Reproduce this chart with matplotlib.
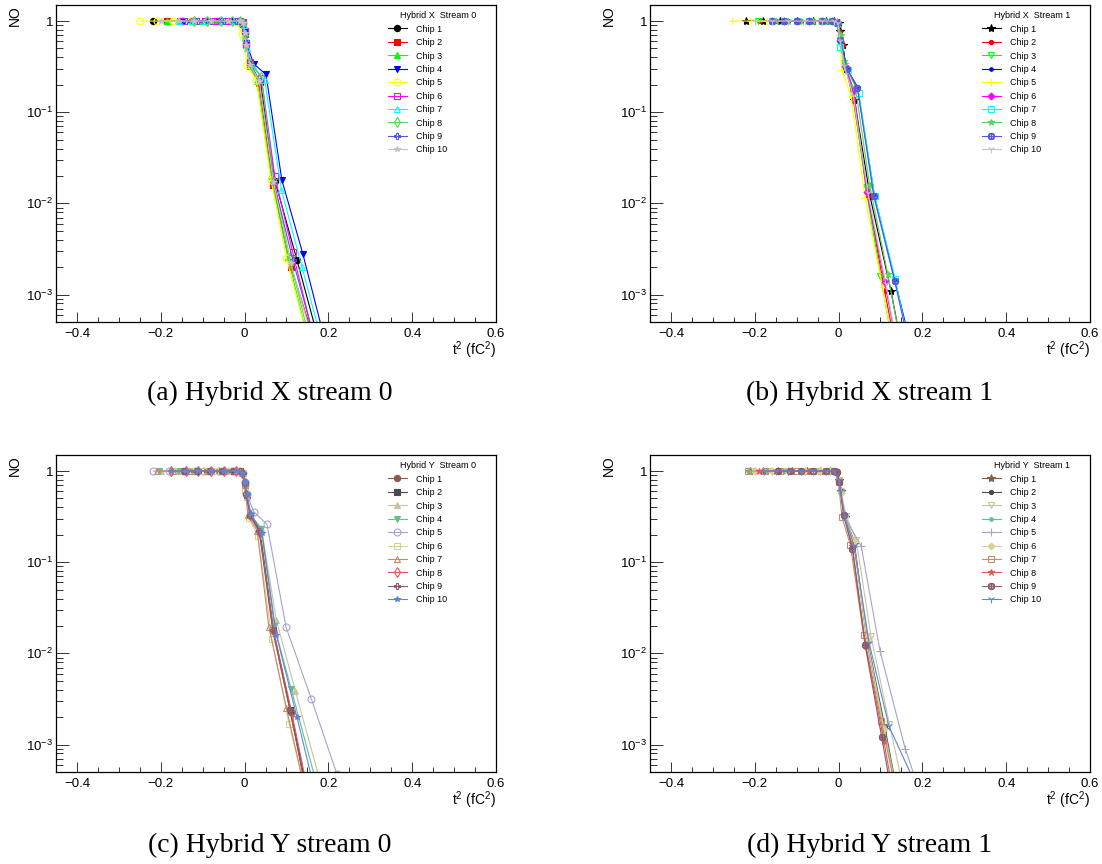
import matplotlib
matplotlib.use("Agg")
import matplotlib.pyplot as plt
from matplotlib.ticker import FixedLocator, MultipleLocator, LogLocator, FuncFormatter, NullFormatter

# ROOT-ish look: helvetica style text everywhere, times for the captions
plt.rcParams['font.family'] = 'Liberation Sans'
plt.rcParams['mathtext.fontset'] = 'custom'
plt.rcParams['mathtext.rm'] = 'Liberation Sans'
plt.rcParams['mathtext.it'] = 'Liberation Sans:italic'
plt.rcParams['mathtext.bf'] = 'Liberation Sans:bold'

chip_labels = ['Chip 1', 'Chip 2', 'Chip 3', 'Chip 4', 'Chip 5',
               'Chip 6', 'Chip 7', 'Chip 8', 'Chip 9', 'Chip 10']

# Hybrid X, stream 0  (x = t^2 in fC^2, y = occupancy)
hx0_x = [
    [-0.219, -0.185, -0.15, -0.12, -0.09, -0.06, -0.03, -0.012, -0.004, 0.0, 0.004, 0.013, 0.038, 0.073, 0.125, 0.174],
    [-0.184, -0.155, -0.125, -0.095, -0.065, -0.035, -0.012, -0.004, 0.0, 0.004, 0.012, 0.034, 0.068, 0.111, 0.163],
    [-0.186, -0.16, -0.13, -0.1, -0.07, -0.04, -0.015, -0.005, 0.0, 0.004, 0.012, 0.03, 0.063, 0.103, 0.149],
    [-0.15, -0.12, -0.09, -0.06, -0.03, -0.012, -0.004, 0.0, 0.004, 0.0216, 0.051, 0.089, 0.139, 0.189],
    [-0.249, -0.21, -0.17, -0.13, -0.09, -0.05, -0.02, -0.005, 0.006, 0.028, 0.063, 0.1, 0.149],
    [-0.15, -0.12, -0.095, -0.07, -0.04, -0.015, -0.004, 0.0, 0.004, 0.014, 0.04, 0.072, 0.115, 0.164],
    [-0.157, -0.125, -0.095, -0.055, -0.025, -0.01, -0.002, 0.006, 0.02, 0.048, 0.088, 0.137, 0.181],
    [-0.12, -0.09, -0.056, -0.03, -0.01, -0.003, 0.002, 0.015, 0.04, 0.071, 0.108, 0.153],
    [-0.14, -0.11, -0.08, -0.05, -0.02, -0.006, 0.0, 0.004, 0.013, 0.036, 0.07, 0.115, 0.165],
    [-0.2, -0.16, -0.12, -0.08, -0.04, -0.012, -0.004, 0.0, 0.004, 0.013, 0.035, 0.069, 0.11, 0.16],
]
hx0_y = [
    [1, 1, 1, 1, 1, 1, 1, 0.99, 0.95, 0.75, 0.56, 0.34, 0.21, 0.0174, 0.0024, 0.00035],
    [1, 1, 1, 1, 1, 1, 0.99, 0.94, 0.72, 0.55, 0.32, 0.21, 0.016, 0.002, 0.00035],
    [1, 1, 1, 1, 1, 1, 1, 0.95, 0.74, 0.55, 0.33, 0.22, 0.02, 0.0026, 0.00035],
    [1, 1, 1, 1, 1, 1, 0.96, 0.78, 0.58, 0.34, 0.26, 0.018, 0.0028, 0.00035],
    [1, 1, 1, 1, 1, 1, 0.98, 0.72, 0.33, 0.225, 0.018, 0.0025, 0.00035],
    [1, 1, 1, 1, 1, 1, 0.97, 0.78, 0.56, 0.36, 0.24, 0.02, 0.0029, 0.00035],
    [1, 1, 1, 1, 1, 1, 0.9, 0.5, 0.32, 0.225, 0.014, 0.002, 0.00035],
    [1, 1, 1, 1, 1, 0.95, 0.62, 0.33, 0.245, 0.017, 0.0025, 0.00035],
    [1, 1, 1, 1, 1, 0.96, 0.74, 0.56, 0.34, 0.22, 0.017, 0.0024, 0.00035],
    [1, 1, 1, 1, 1, 1, 0.95, 0.74, 0.55, 0.33, 0.22, 0.017, 0.0022, 0.00035],
]

# Hybrid X, stream 1
hx1_x = [
    [-0.222, -0.18, -0.14, -0.1, -0.06, -0.03, -0.01, 0.0, 0.004, 0.01, 0.018, 0.038, 0.075, 0.125, 0.16],
    [-0.187, -0.15, -0.12, -0.09, -0.06, -0.03, -0.01, 0.0, 0.004, 0.01, 0.017, 0.035, 0.07, 0.11, 0.15],
    [-0.192, -0.16, -0.13, -0.1, -0.07, -0.04, -0.015, -0.002, 0.003, 0.012, 0.035, 0.065, 0.1, 0.14],
    [-0.15, -0.12, -0.09, -0.06, -0.03, -0.01, 0.0, 0.005, 0.02, 0.045, 0.085, 0.135, 0.18],
    [-0.254, -0.21, -0.17, -0.13, -0.09, -0.05, -0.02, -0.005, 0.002, 0.008, 0.03, 0.0635, 0.105, 0.14],
    [-0.16, -0.13, -0.1, -0.07, -0.04, -0.015, -0.003, 0.003, 0.016, 0.036, 0.067, 0.11, 0.15],
    [-0.159, -0.13, -0.1, -0.07, -0.04, -0.015, -0.003, 0.004, 0.022, 0.048, 0.086, 0.135, 0.175],
    [-0.15, -0.12, -0.09, -0.06, -0.03, -0.01, 0.0, 0.005, 0.015, 0.04, 0.074, 0.117, 0.155],
    [-0.16, -0.13, -0.1, -0.07, -0.04, -0.015, -0.003, 0.004, 0.02, 0.045, 0.084, 0.134, 0.175],
    [-0.2, -0.16, -0.12, -0.08, -0.04, -0.012, -0.002, 0.004, 0.014, 0.035, 0.07, 0.113, 0.15],
]
hx1_y = [
    [1, 1, 1, 1, 1, 1, 1, 0.95, 0.78, 0.55, 0.3, 0.136, 0.012, 0.0011, 0.000155],
    [1, 1, 1, 1, 1, 1, 1, 0.95, 0.76, 0.55, 0.31, 0.14, 0.012, 0.0011, 0.00012],
    [1, 1, 1, 1, 1, 1, 1, 0.93, 0.62, 0.35, 0.16, 0.015, 0.0016, 0.00015],
    [1, 1, 1, 1, 1, 1, 0.95, 0.65, 0.3, 0.19, 0.0125, 0.0014, 0.0002],
    [1, 1, 1, 1, 1, 1, 1, 0.97, 0.7, 0.29, 0.15, 0.0114, 0.0012, 0.00016],
    [1, 1, 1, 1, 1, 1, 0.97, 0.6, 0.32, 0.176, 0.0135, 0.00137, 0.00015],
    [1, 1, 1, 1, 1, 1, 0.95, 0.52, 0.29, 0.164, 0.0122, 0.0015, 0.0002],
    [1, 1, 1, 1, 1, 1, 0.94, 0.7, 0.34, 0.19, 0.016, 0.0017, 0.0002],
    [1, 1, 1, 1, 1, 1, 0.95, 0.62, 0.3, 0.185, 0.012, 0.0014, 0.0002],
    [1, 1, 1, 1, 1, 1, 0.95, 0.6, 0.32, 0.15, 0.013, 0.0013, 0.00015],
]

# Hybrid Y, stream 0
hy0_x = [
    [-0.146, -0.12, -0.09, -0.06, -0.03, -0.012, -0.004, 0.0, 0.004, 0.013, 0.036, 0.068, 0.11, 0.15],
    [-0.14, -0.11, -0.08, -0.05, -0.025, -0.01, -0.003, 0.001, 0.005, 0.014, 0.037, 0.069, 0.109, 0.15],
    [-0.2, -0.16, -0.12, -0.08, -0.04, -0.015, -0.004, 0.0, 0.005, 0.016, 0.04, 0.076, 0.121, 0.18],
    [-0.204, -0.16, -0.12, -0.08, -0.04, -0.015, -0.004, 0.0, 0.005, 0.015, 0.04, 0.071, 0.111, 0.17],
    [-0.218, -0.18, -0.14, -0.1, -0.06, -0.025, -0.006, 0.0, 0.005, 0.0216, 0.0535, 0.099, 0.159, 0.22],
    [-0.17, -0.13, -0.1, -0.07, -0.04, -0.015, -0.004, 0.002, 0.0096, 0.032, 0.065, 0.106, 0.155],
    [-0.21, -0.17, -0.13, -0.09, -0.05, -0.02, -0.005, 0.0, 0.008, 0.03, 0.058, 0.1, 0.145],
    [-0.176, -0.14, -0.11, -0.08, -0.05, -0.02, -0.005, 0.0, 0.004, 0.013, 0.036, 0.07, 0.113, 0.155],
    [-0.145, -0.115, -0.085, -0.055, -0.03, -0.012, -0.004, 0.0, 0.004, 0.013, 0.035, 0.067, 0.108, 0.15],
    [-0.176, -0.14, -0.11, -0.08, -0.05, -0.02, -0.005, 0.0, 0.005, 0.015, 0.0415, 0.076, 0.125, 0.165],
]
hy0_y = [
    [1, 1, 1, 1, 1, 1, 0.96, 0.75, 0.56, 0.33, 0.22, 0.018, 0.0023, 0.00025],
    [1, 1, 1, 1, 1, 1, 0.95, 0.72, 0.55, 0.33, 0.22, 0.018, 0.0024, 0.0003],
    [1, 1, 1, 1, 1, 1, 0.95, 0.72, 0.52, 0.32, 0.24, 0.023, 0.0039, 0.0004],
    [1, 1, 1, 1, 1, 1, 0.95, 0.73, 0.55, 0.33, 0.23, 0.02, 0.0041, 0.0004],
    [1, 1, 1, 1, 1, 1, 0.96, 0.75, 0.56, 0.36, 0.26, 0.0194, 0.0032, 0.00048],
    [1, 1, 1, 1, 1, 1, 0.95, 0.6, 0.306, 0.196, 0.0145, 0.0017, 0.0002],
    [1, 1, 1, 1, 1, 1, 0.95, 0.7, 0.33, 0.222, 0.0194, 0.0025, 0.0003],
    [1, 1, 1, 1, 1, 1, 0.96, 0.74, 0.56, 0.33, 0.21, 0.017, 0.0022, 0.00025],
    [1, 1, 1, 1, 1, 1, 0.96, 0.74, 0.56, 0.33, 0.22, 0.018, 0.0024, 0.00028],
    [1, 1, 1, 1, 1, 1, 0.96, 0.75, 0.56, 0.34, 0.21, 0.0158, 0.002, 0.00035],
]

# Hybrid Y, stream 1
hy1_x = [
    [-0.212, -0.18, -0.145, -0.11, -0.075, -0.045, -0.02, -0.005, 0.0, 0.005, 0.015, 0.038, 0.068, 0.109, 0.15],
    [-0.2, -0.16, -0.12, -0.08, -0.045, -0.02, -0.005, 0.0, 0.005, 0.015, 0.036, 0.069, 0.11, 0.15],
    [-0.21, -0.17, -0.13, -0.09, -0.05, -0.02, -0.005, 0.0, 0.006, 0.018, 0.042, 0.077, 0.121, 0.165],
    [-0.215, -0.17, -0.13, -0.09, -0.05, -0.02, -0.005, 0.0, 0.005, 0.015, 0.036, 0.068, 0.108, 0.15],
    [-0.2, -0.16, -0.12, -0.08, -0.045, -0.02, -0.005, 0.0, 0.005, 0.015, 0.054, 0.099, 0.159, 0.2],
    [-0.2, -0.16, -0.12, -0.08, -0.045, -0.02, -0.005, 0.0, 0.005, 0.015, 0.036, 0.068, 0.108, 0.15],
    [-0.215, -0.175, -0.14, -0.1, -0.06, -0.03, -0.01, 0.0, 0.008, 0.028, 0.06, 0.102, 0.145],
    [-0.19, -0.15, -0.11, -0.07, -0.035, -0.012, -0.003, 0.002, 0.012, 0.033, 0.065, 0.108, 0.145],
    [-0.145, -0.115, -0.09, -0.06, -0.03, -0.012, -0.003, 0.002, 0.012, 0.033, 0.063, 0.103, 0.14],
    [-0.179, -0.15, -0.12, -0.09, -0.06, -0.03, -0.01, 0.0, 0.005, 0.015, 0.037, 0.073, 0.12, 0.175],
]
hy1_y = [
    [1, 1, 1, 1, 1, 1, 1, 0.97, 0.8, 0.6, 0.31, 0.16, 0.013, 0.0015, 0.00015],
    [1, 1, 1, 1, 1, 1, 0.97, 0.8, 0.6, 0.31, 0.177, 0.014, 0.0016, 0.00017],
    [1, 1, 1, 1, 1, 1, 0.97, 0.8, 0.6, 0.32, 0.177, 0.0157, 0.0017, 0.0002],
    [1, 1, 1, 1, 1, 1, 0.97, 0.8, 0.58, 0.31, 0.17, 0.014, 0.0016, 0.00017],
    [1, 1, 1, 1, 1, 1, 0.97, 0.8, 0.6, 0.31, 0.15, 0.0106, 0.0009, 0.00025],
    [1, 1, 1, 1, 1, 1, 0.97, 0.8, 0.58, 0.31, 0.17, 0.014, 0.0015, 0.00016],
    [1, 1, 1, 1, 1, 1, 1, 0.75, 0.315, 0.155, 0.016, 0.0018, 0.0002],
    [1, 1, 1, 1, 1, 1, 0.97, 0.75, 0.33, 0.15, 0.012, 0.0011, 0.00012],
    [1, 1, 1, 1, 1, 1, 0.97, 0.75, 0.33, 0.14, 0.0125, 0.0012, 0.00013],
    [1, 1, 1, 1, 1, 1, 1, 0.8, 0.6, 0.31, 0.15, 0.013, 0.0016, 0.00045],
]

# colours: plain ROOT colours for hybrid X, softer palette for hybrid Y
colors_x = ['#000000', '#ff0000', '#00ff00', '#0000ff', '#ffff00',
            '#ff00ff', '#00ffff', '#59d454', '#5954d8', '#c8c2bc']
colors_y = ['#8d5a4a', '#4a4a4a', '#c9c3a3', '#62bf8e', '#a4a4cc',
            '#d6d290', '#c98a68', '#e05858', '#8a5a68', '#5f86d6']

# (marker, filled, size)
markers_s0 = [('o', True, 4.5), ('s', True, 4.5), ('^', True, 4.5), ('v', True, 4.5),
              ('o', False, 5), ('s', False, 5), ('^', False, 5), ('d', False, 5),
              ('P', False, 5), ('*', True, 4)]
markers_s1 = [('*', True, 6), ('o', True, 3), ('v', False, 5), ('o', True, 2.5),
              ('+', True, 5.5), ('D', True, 3.5), ('s', False, 5), ('*', True, 5),
              ('$\\oplus$', True, 4.5), ('1', True, 5.5)]

W, H = 1102, 864
fig = plt.figure(figsize=(W / 100, H / 100), dpi=100)

panels = [
    (hx0_x, hx0_y, colors_x, markers_s0, 'Hybrid X  Stream 0', '(a) Hybrid X stream 0', (56, 5), (270, 393)),
    (hx1_x, hx1_y, colors_x, markers_s1, 'Hybrid X  Stream 1', '(b) Hybrid X stream 1', (650, 5), (870, 393)),
    (hy0_x, hy0_y, colors_y, markers_s0, 'Hybrid Y  Stream 0', '(c) Hybrid Y stream 0', (56, 455), (270, 845)),
    (hy1_x, hy1_y, colors_y, markers_s1, 'Hybrid Y  Stream 1', '(d) Hybrid Y stream 1', (650, 455), (870, 845)),
]
aw, ah = 440, 317


def ylab(v, pos):
    if abs(v - 1) < 1e-9:
        return '1'
    import math
    return '$10^{%d}$' % round(math.log10(v))


def xlab(v, pos):
    if abs(v) < 1e-9:
        return '0'
    return ('%g' % v).replace('-', '\u2212')


for xs, ys, cols, marks, leg_title, caption, (l, t), (cx, cy) in panels:
    ax = fig.add_axes([l / W, 1 - (t + ah) / H, aw / W, ah / H])
    lines = []
    for i in range(10):
        m, filled, ms = marks[i]
        ln, = ax.plot(xs[i], ys[i], color=cols[i], lw=0.8, marker=m, ms=ms,
                      mfc=cols[i] if filled else 'none', mec=cols[i], mew=0.8)
        lines.append(ln)

    ax.set_yscale('log')
    ax.set_xlim(-0.45, 0.6)
    ax.set_ylim(5e-4, 1.5)

    ax.xaxis.set_major_locator(FixedLocator([-0.4, -0.2, 0, 0.2, 0.4, 0.6]))
    ax.xaxis.set_minor_locator(MultipleLocator(0.05))
    ax.xaxis.set_major_formatter(FuncFormatter(xlab))
    ax.yaxis.set_major_locator(LogLocator(base=10, numticks=10))
    ax.yaxis.set_minor_locator(LogLocator(base=10, subs=range(2, 10), numticks=20))
    ax.yaxis.set_major_formatter(FuncFormatter(ylab))
    ax.yaxis.set_minor_formatter(NullFormatter())

    ax.tick_params(axis='x', which='major', direction='in', length=7, width=0.7,
                   top=False, labelsize=9.5, pad=4, color='#333333')
    ax.tick_params(axis='x', which='minor', direction='in', length=3.5, width=0.7,
                   top=False, color='#333333')
    ax.tick_params(axis='y', which='major', direction='in', length=9, width=0.7,
                   right=False, labelsize=9.5, pad=2, color='#333333')
    ax.tick_params(axis='y', which='minor', direction='in', length=5, width=0.7,
                   right=False, color='#333333')
    for sp in ax.spines.values():
        sp.set_linewidth(0.9)

    ax.set_ylabel('NO', fontsize=10, loc='top')
    ax.yaxis.set_label_coords(-0.078, 1.0)
    ax.set_xlabel('t$^2$ (fC$^2$)', fontsize=10, loc='right')
    ax.xaxis.set_label_coords(1.0, -0.056)

    ax.text(0.868, 0.966, leg_title, transform=ax.transAxes, ha='center', va='center', fontsize=6.5)
    ax.legend(lines, chip_labels, loc='upper left', bbox_to_anchor=(0.7545, 0.938),
              frameon=False, fontsize=6.5, handlelength=2.1, handletextpad=1.0,
              labelspacing=0.49, borderpad=0, borderaxespad=0)

    fig.text(cx / W, 1 - cy / H, caption, ha='center', va='center',
             fontsize=20, family='Liberation Serif')

fig.savefig('out.png', dpi=100)
